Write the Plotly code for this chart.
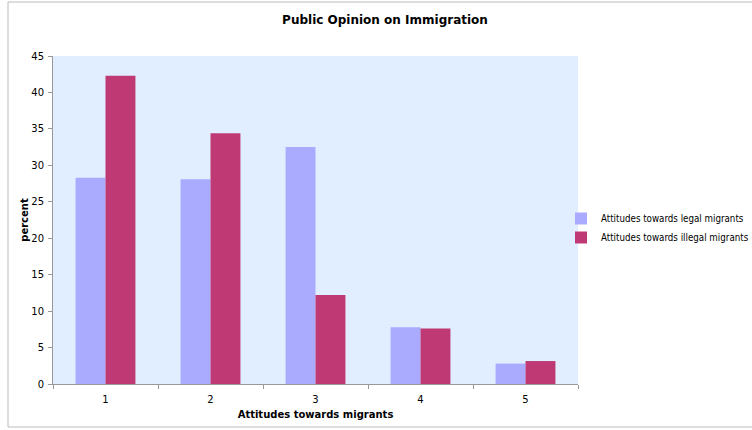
import plotly.graph_objects as go

categories = ["1", "2", "3", "4", "5"]
legal = [28.3, 28.1, 32.5, 7.8, 2.8]
illegal = [42.3, 34.4, 12.2, 7.6, 3.15]
series_names = ["Attitudes towards legal migrants", "Attitudes towards illegal migrants"]

W, H = 752, 430
L, R, T, B = 53, 174, 56, 46

fig = go.Figure()
fig.add_trace(go.Bar(x=categories, y=legal, name=series_names[0],
                     marker=dict(color="#AAAAFF", line=dict(width=0))))
fig.add_trace(go.Bar(x=categories, y=illegal, name=series_names[1],
                     marker=dict(color="#BF3A75", line=dict(width=0))))

font = "Verdana, DejaVu Sans, sans-serif"
pw = W - L - R
ph = H - T - B
fig.update_layout(
    width=W, height=H,
    margin=dict(l=L, r=R, t=T, b=B, autoexpand=False),
    paper_bgcolor="white",
    plot_bgcolor="#E0EEFF",
    barmode="group",
    bargap=0.43,
    bargroupgap=0,
    font=dict(family=font, size=10, color="black"),
    title=dict(text="<b>Public Opinion on Immigration</b>", x=385 / W, xanchor="center",
               y=1 - 20 / H, yanchor="middle", font=dict(size=12, family=font)),
    legend=dict(x=1 + (561 - (L + pw)) / pw, y=1 - (204 - T) / ph, xanchor="left", yanchor="top",
                font=dict(size=9.7, family="DejaVu Sans Condensed, DejaVu Sans, sans-serif"),
                itemwidth=30, tracegroupgap=0, bgcolor="rgba(0,0,0,0)"),
    showlegend=True,
    shapes=[dict(type="rect", xref="paper", yref="paper",
                 x0=(8 - L) / pw, x1=(770 - L) / pw,
                 y0=(T + ph - 427) / ph, y1=(T + ph - 2) / ph,
                 line=dict(color="#BBBBBB", width=1), fillcolor="rgba(0,0,0,0)", layer="below")],
)
fig.update_xaxes(
    type="category", tickson="boundaries", ticks="outside", ticklen=4, tickcolor="#999999",
    showline=True, linecolor="#999999", linewidth=1, mirror=False,
    showgrid=False, ticklabelstandoff=6,
    title=dict(text="<b>Attitudes towards migrants</b>", font=dict(size=10, family=font), standoff=6),
)
fig.update_yaxes(
    range=[0, 45], dtick=5, ticks="outside", ticklen=4, tickcolor="#999999",
    showline=True, linecolor="#999999", linewidth=1,
    showgrid=False, zeroline=False, ticklabelstandoff=2,
    title=dict(text="<b>percent</b>", font=dict(size=10, family=font), standoff=0),
)
fig.write_html("out.html")
